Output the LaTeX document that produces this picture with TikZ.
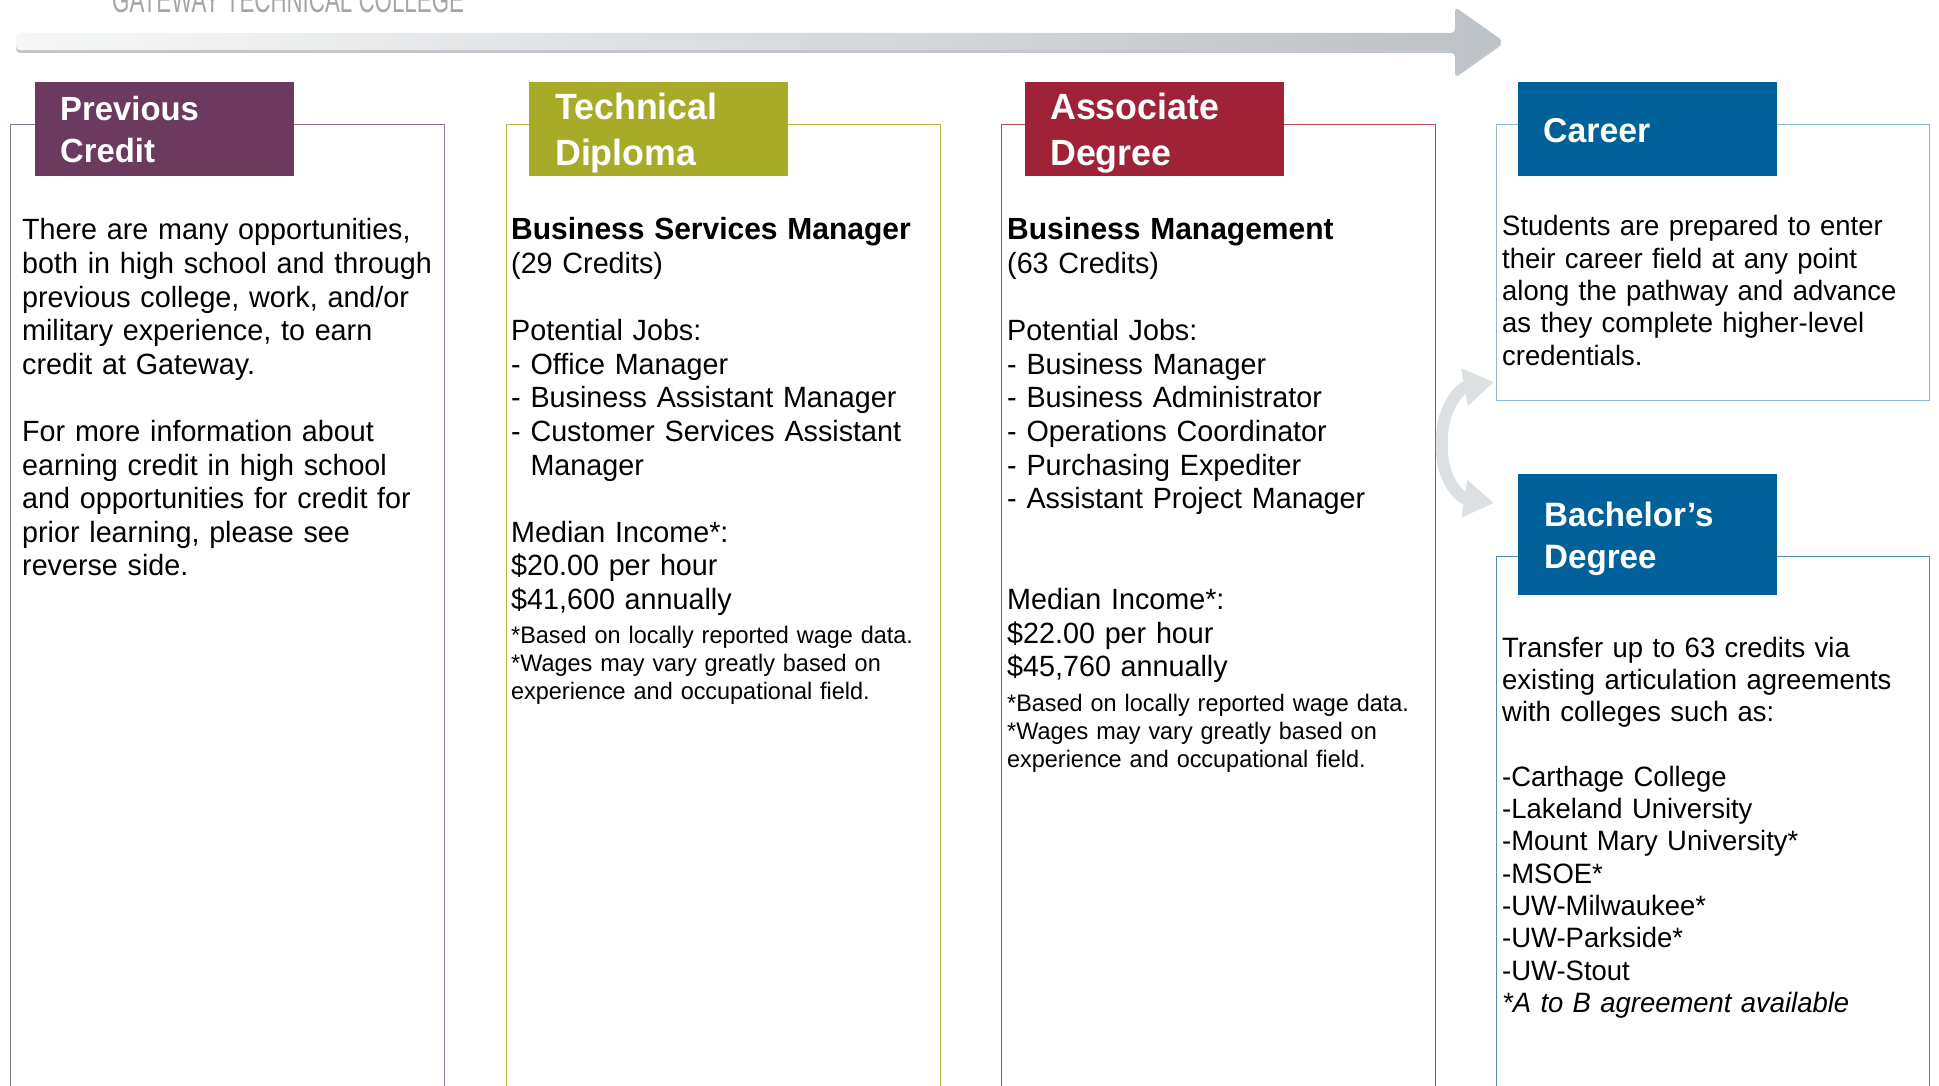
\documentclass[tikz,border=0pt]{standalone}
\usepackage{fontspec}
\setmainfont[FakeStretch=0.98]{Liberation Sans}
\newfontfamily\condfont[FakeStretch=0.62]{Liberation Sans}
\usetikzlibrary{arrows.meta}
\definecolor{prevcol}{HTML}{6B3A5E}
\definecolor{dipcol}{HTML}{A8AB28}
\definecolor{assoccol}{HTML}{A02237}
\definecolor{careercol}{HTML}{00619A}
\definecolor{arrowlight}{HTML}{F6F7F8}
\definecolor{arrowdark}{HTML}{BCC1C6}
\newcommand{\progname}[1]{{\fontsize{30.6}{33.6}\selectfont\bfseries #1}}
\begin{document}
\begin{tikzpicture}
	[
	x = {(1pt, 0pt)},
	y = {(0pt, -1pt)},
	colframe/.style = {draw, line width = 1.4pt, minimum width = 434, minimum height = 1000, anchor = north west, inner sep = 0pt},
	headbox/.style = {anchor = north west, minimum width = 259, minimum height = 94, inner sep = 0pt},
	headtext/.style 2 args = {anchor = base west, inner sep = 0pt, text = white, text width = 230, align = left, font = \fontsize{#1}{#2}\selectfont\bfseries},
	bodytext/.style = {anchor = base west, inner sep = 0pt, text width = 425, align = left, font = \fontsize{29.3}{33.6}\selectfont},
	notetext/.style = {anchor = base west, inner sep = 0pt, text width = 425, align = left, font = \fontsize{23.9}{28.2}\selectfont},
	sidetext/.style = {anchor = base west, inner sep = 0pt, text width = 425, align = left, font = \fontsize{28}{32.3}\selectfont},
	bendarrow/.style = {draw = arrowdark!50, line width = 12pt, -{Triangle[length = 30pt, width = 36pt]}}]
	
	\useasboundingbox (0,0) rectangle (1939,1086);
	\clip (0,0) rectangle (1939,1086);
	
	%% Title and the big arrow
	
	\node[anchor = base west, inner sep = 0pt, text = gray!70, font = \fontsize{36}{36}\selectfont\condfont] (college) at (112,13) {GATEWAY TECHNICAL COLLEGE};
	
	\fill[arrowdark!90, rounded corners = 4pt] (16,36) -- (1455,36) -- (1455,10) -- (1503,44) -- (1455,78) -- (1455,53) -- (16,53) -- cycle;
	\shade[left color = arrowlight, right color = arrowdark, rounded corners = 4pt] (16,33) -- (1455,33) -- (1455,7) -- (1503,41) -- (1455,75) -- (1455,50) -- (16,50) -- cycle;
	
	%% Column frames
	
	\node[colframe, draw = prevcol!70] (prevbox) at (10,124) {};
	\node[colframe, draw = dipcol!85] (dipbox) at (506,124) {};
	\node[colframe, draw = assoccol!80] (assocbox) at (1001,124) {};
	\node[colframe, draw = careercol!45, minimum width = 433, minimum height = 276] (careerbox) at (1496,124) {};
	\node[colframe, draw = careercol!70, minimum width = 433, minimum height = 600] (bachbox) at (1496,556) {};
	
	%% Headers
	
	\node[headbox, fill = prevcol] (prevhead) at (35,82) {};
	\node[headbox, fill = dipcol] (diphead) at (529,82) {};
	\node[headbox, fill = assoccol] (assochead) at (1025,82) {};
	\node[headbox, fill = careercol] (careerhead) at (1518,82) {};
	\node[headbox, fill = careercol, minimum height = 121] (bachhead) at (1518,474) {};
	
	\node[headtext = {33.5}{42}] (prevtitle) at (60,121) {Previous\\Credit};
	\node[headtext = {36.5}{46}] (diptitle) at (555,120) {Technical\\Diploma};
	\node[headtext = {36.5}{46}] (assoctitle) at (1050,120) {Associate\\Degree};
	\node[headtext = {34.5}{42}] (careertitle) at (1543,143) {Career};
	\node[headtext = {33.8}{42}] (bachtitle) at (1544,526) {Bachelor's\\Degree};
	
	%% Column texts
	
	\node[bodytext] (prevtext) at (22,240) {There are many opportunities,\\
		both in high school and through\\
		previous college, work, and/or\\
		military experience, to earn\\
		credit at Gateway.\\[\baselineskip]
		For more information about\\
		earning credit in high school\\
		and opportunities for credit for\\
		prior learning, please see\\
		reverse side.};
	
	\node[bodytext] (diptext) at (511,240) {\progname{Business Services Manager}\\
		(29 Credits)\\[\baselineskip]
		Potential Jobs:\\
		- Office Manager\\
		- Business Assistant Manager\\
		- Customer Services Assistant\\
		\phantom{- }Manager\\[\baselineskip]
		Median Income*:\\
		\$20.00 per hour\\
		\$41,600 annually};
	\node[notetext] (dipnote) at (511,643) {*Based on locally reported wage data.\\
		{}*Wages may vary greatly based on\\
		experience and occupational field.};
	
	\node[bodytext] (assoctext) at (1007,240) {\progname{Business Management}\\
		(63 Credits)\\[\baselineskip]
		Potential Jobs:\\
		- Business Manager\\
		- Business Administrator\\
		- Operations Coordinator\\
		- Purchasing Expediter\\
		- Assistant Project Manager\\[2\baselineskip]
		Median Income*:\\
		\$22.00 per hour\\
		\$45,760 annually};
	\node[notetext] (assocnote) at (1007,711) {*Based on locally reported wage data.\\
		{}*Wages may vary greatly based on\\
		experience and occupational field.};
	
	\node[sidetext] (careertext) at (1502,236) {Students are prepared to enter\\
		their career field at any point\\
		along the pathway and advance\\
		as they complete higher-level\\
		credentials.};
	
	\node[sidetext] (bachtext) at (1502,657) {Transfer up to 63 credits via\\
		existing articulation agreements\\
		with colleges such as:\\[\baselineskip]
		-Carthage College\\
		-Lakeland University\\
		-Mount Mary University*\\
		-MSOE*\\
		-UW-Milwaukee*\\
		-UW-Parkside*\\
		-UW-Stout\\
		\textit{*A to B agreement available}};
	
	%% Split arrows towards career and bachelor
	
	\coordinate (fork) at (1442,444);
	\coordinate (tocareer) at (1494,382);
	\coordinate (tobach) at (1494,503);
	
	\draw[bendarrow] (fork) .. controls (1440,410) and (1460,388) .. (tocareer);
	\draw[bendarrow] (fork) .. controls (1440,478) and (1460,498) .. (tobach);
\end{tikzpicture}
\end{document}
